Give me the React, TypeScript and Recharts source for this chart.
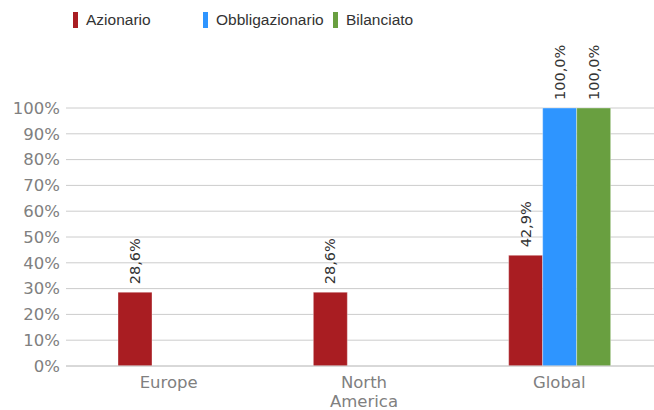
import React from 'react';
import { BarChart, Bar, XAxis, YAxis, CartesianGrid, Legend, LabelList } from 'recharts';

const categories = ['Europe', 'North America', 'Global'];
const azionario = [0.286, 0.286, 0.429];
const obbligazionario = [null, null, 1.0];
const bilanciato = [null, null, 1.0];
const yTicks = [0, 0.1, 0.2, 0.3, 0.4, 0.5, 0.6, 0.7, 0.8, 0.9, 1];

const series = [
  { key: 'azionario', name: 'Azionario', color: '#a91d22' },
  { key: 'obbligazionario', name: 'Obbligazionario', color: '#2e95ff' },
  { key: 'bilanciato', name: 'Bilanciato', color: '#699f40' },
];

const data = categories.map((name, i) => ({
  name,
  azionario: azionario[i],
  obbligazionario: obbligazionario[i],
  bilanciato: bilanciato[i],
}));

const FONT = '"DejaVu Sans", Verdana, sans-serif';
const LEGEND_FONT = '"Liberation Sans", Arial, sans-serif';

const formatValue = (v: number) => (v * 100).toFixed(1).replace('.', ',') + '%';

// vertical value label sitting above each bar
const ValueLabel = (props: any) => {
  const { x, y, width, value } = props;
  if (value === null || value === undefined) return null;
  const cx = x + width / 2;
  const cy = y - 8;
  return (
    <text
      x={cx}
      y={cy}
      transform={`rotate(-90, ${cx}, ${cy})`}
      textAnchor="start"
      dominantBaseline="central"
      fill="#333"
      fontSize={14.5}
      fontFamily={FONT}
    >
      {formatValue(value)}
    </text>
  );
};

const CategoryTick = (props: any) => {
  const { x, y, payload } = props;
  const label: string = payload.value;
  const lines = label.length > 10 ? label.split(' ') : [label];
  return (
    <text x={x} y={y} textAnchor="middle" fill="#808080" fontSize={16.5} fontFamily={FONT}>
      {lines.map((line, i) => (
        <tspan key={i} x={x} dy={i === 0 ? 14 : 19}>
          {line}
        </tspan>
      ))}
    </text>
  );
};

const renderLegend = () => (
  <div style={{ position: 'relative', height: 40, width: 654 }}>
    {series.map((s, i) => (
      <div
        key={s.key}
        style={{ position: 'absolute', left: 73 + 130 * i, top: 12, display: 'flex', alignItems: 'center' }}
      >
        <span style={{ display: 'inline-block', width: 5, height: 16, background: s.color }} />
        <span style={{ marginLeft: 8, fontSize: 15.5, color: '#333', lineHeight: '16px', fontFamily: LEGEND_FONT }}>
          {s.name}
        </span>
      </div>
    ))}
  </div>
);

export default function App() {
  return (
    <div
      style={{
        position: 'absolute',
        left: 0,
        top: 0,
        width: 654,
        height: 410,
        overflow: 'hidden',
        background: '#fff',
        fontFamily: FONT,
      }}
    >
      <BarChart
        width={657}
        height={410}
        data={data}
        margin={{ top: 68, right: 0, left: 0, bottom: 0 }}
        barSize={34}
        barGap={0}
      >
        <CartesianGrid horizontal vertical={false} stroke="#cccccc" />
        <XAxis
          dataKey="name"
          height={44}
          tickLine={false}
          axisLine={{ stroke: '#cccccc' }}
          interval={0}
          padding={{ left: 5, right: 0 }}
          tick={<CategoryTick />}
        />
        <YAxis
          width={66}
          domain={[0, 1]}
          ticks={yTicks}
          tickFormatter={(v: number) => Math.round(v * 100) + '%'}
          tickLine={false}
          axisLine={false}
          tickSize={6}
          tickMargin={0}
          tick={{ fill: '#808080', fontSize: 16.5, fontFamily: FONT }}
        />
        <Legend verticalAlign="top" align="left" content={renderLegend} wrapperStyle={{ top: 0, left: 0 }} />
        {series.map((s) => (
          <Bar
            key={s.key}
            dataKey={s.key}
            name={s.name}
            fill={s.color}
            stroke="#ffffff"
            strokeOpacity={0.35}
            strokeWidth={1}
            isAnimationActive={false}
          >
            <LabelList dataKey={s.key} content={<ValueLabel />} />
          </Bar>
        ))}
      </BarChart>
    </div>
  );
}
